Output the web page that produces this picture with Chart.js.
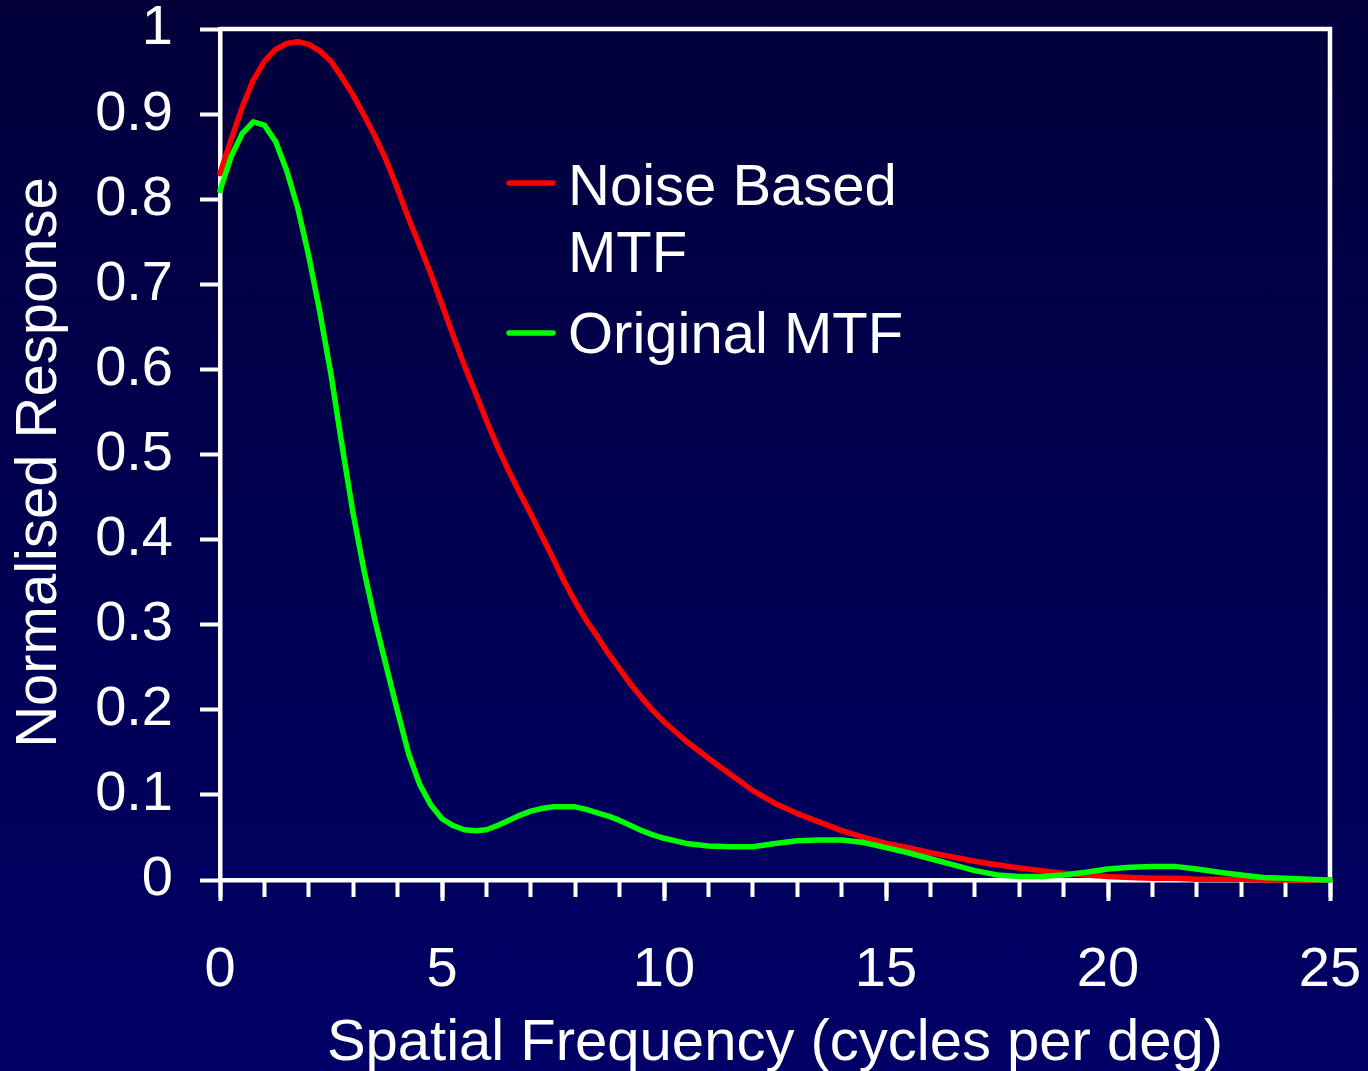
<!DOCTYPE html>
<html>
<head>
<meta charset="utf-8">
<title>MTF</title>
<script src="https://cdn.jsdelivr.net/npm/chart.js@4.4.1/dist/chart.umd.min.js"></script>
<style>
  html, body { margin: 0; padding: 0; }
  body {
    width: 1368px;
    height: 1071px;
    overflow: hidden;
    background: linear-gradient(to bottom, #03003a 0%, #00004f 45%, #000066 100%);
  }
  canvas { display: block; }
</style>
</head>
<body>
<canvas id="mtfChart" width="1368" height="1071"></canvas>
<script>
// spatial frequency (cycles per deg)
const freq = [
  0, 0.25, 0.5, 0.75, 1, 1.25, 1.5, 1.75, 2, 2.25, 2.5, 2.75, 3, 3.25, 3.5, 3.75,
  4, 4.25, 4.5, 4.75, 5, 5.25, 5.5, 5.75, 6, 6.25, 6.5, 6.75, 7, 7.25, 7.5, 7.75,
  8, 8.25, 8.5, 8.75, 9, 9.25, 9.5, 9.75, 10,
  10.5, 11, 11.5, 12, 12.5, 13, 13.5, 14, 14.5, 15, 15.5, 16, 16.5, 17, 17.5,
  18, 18.5, 19, 19.5, 20, 20.5, 21, 21.5, 22, 22.5, 23, 23.5, 24, 24.5, 25
];

const noiseMtf = [
  0.83, 0.87, 0.908, 0.94, 0.962, 0.976, 0.983, 0.985, 0.982, 0.974, 0.962, 0.943, 0.922, 0.898, 0.873, 0.845,
  0.812, 0.777, 0.745, 0.712, 0.676, 0.64, 0.605, 0.573, 0.54, 0.509, 0.481, 0.455, 0.43, 0.404, 0.378, 0.351,
  0.327, 0.305, 0.286, 0.266, 0.248, 0.23, 0.214, 0.199, 0.186,
  0.163, 0.143, 0.124, 0.105, 0.09, 0.078, 0.068, 0.058, 0.05, 0.043, 0.038, 0.032, 0.027, 0.022, 0.018,
  0.014, 0.011, 0.008, 0.006, 0.004, 0.003, 0.002, 0.002, 0.001, 0.001, 0.001, 0, 0, 0, 0
];

const originalMtf = [
  0.81, 0.85, 0.877, 0.891, 0.887, 0.868, 0.834, 0.79, 0.733, 0.667, 0.594, 0.51, 0.43, 0.362, 0.303, 0.25,
  0.198, 0.148, 0.112, 0.088, 0.072, 0.064, 0.059, 0.058, 0.059, 0.064, 0.07, 0.076, 0.081, 0.084, 0.086, 0.086,
  0.086, 0.083, 0.079, 0.075, 0.07, 0.064, 0.058, 0.053, 0.049,
  0.043, 0.04, 0.039, 0.039, 0.043, 0.046, 0.047, 0.047, 0.044, 0.038, 0.032, 0.025, 0.018, 0.011, 0.006,
  0.004, 0.004, 0.006, 0.009, 0.013, 0.015, 0.016, 0.016, 0.013, 0.009, 0.006, 0.003, 0.002, 0.001, 0
];

const xTickLabels = ['0', '5', '10', '15', '20', '25'];
const yTickLabels = ['0', '0.1', '0.2', '0.3', '0.4', '0.5', '0.6', '0.7', '0.8', '0.9', '1'];
const legendLines = [['Noise Based', 'MTF'], ['Original MTF']];

const FONT = '"Liberation Sans", Arial, sans-serif';

function toPoints(ys) {
  return freq.map((f, i) => ({ x: f, y: ys[i] }));
}

// box round the plot (top and right sides)
const plotFrame = {
  id: 'plotFrame',
  beforeDatasetsDraw(chart) {
    const { ctx, chartArea: a } = chart;
    ctx.save();
    ctx.strokeStyle = '#ffffff';
    ctx.lineWidth = 4.5;
    ctx.lineJoin = 'miter';
    ctx.beginPath();
    ctx.moveTo(a.left, a.top);
    ctx.lineTo(a.right, a.top);
    ctx.lineTo(a.right, a.bottom);
    ctx.stroke();
    ctx.restore();
  }
};

// legend sits inside the plot, labels wrap on two lines
const insideLegend = {
  id: 'insideLegend',
  afterDraw(chart) {
    const ctx = chart.ctx;
    const rows = [
      { lineY: 183, textY: [205, 272] },
      { lineY: 333, textY: [353] }
    ];
    ctx.save();
    ctx.font = '58px ' + FONT;
    ctx.fillStyle = '#ffffff';
    ctx.textBaseline = 'alphabetic';
    ctx.textAlign = 'left';
    chart.data.datasets.forEach((ds, i) => {
      const r = rows[i];
      ctx.strokeStyle = ds.borderColor;
      ctx.lineWidth = 5.5;
      ctx.lineCap = 'round';
      ctx.beginPath();
      ctx.moveTo(509, r.lineY);
      ctx.lineTo(553, r.lineY);
      ctx.stroke();
      legendLines[i].forEach((t, j) => ctx.fillText(t, 568, r.textY[j]));
    });
    ctx.restore();
  }
};

const ctx = document.getElementById('mtfChart').getContext('2d');
const mtfChart = new Chart(ctx, {
  type: 'line',
  data: {
    datasets: [{
      label: 'Noise Based MTF',
      data: toPoints(noiseMtf),
      borderColor: '#ff0000',
      borderWidth: 5.5,
      pointRadius: 0,
      tension: 0,
      borderCapStyle: 'round',
      borderJoinStyle: 'round',
      clip: false,
      order: 1
    }, {
      label: 'Original MTF',
      data: toPoints(originalMtf),
      borderColor: '#00ff00',
      borderWidth: 5.5,
      pointRadius: 0,
      tension: 0,
      borderCapStyle: 'round',
      borderJoinStyle: 'round',
      clip: false,
      order: 0
    }]
  },
  options: {
    responsive: false,
    animation: false,
    events: [],
    layout: { padding: { left: 0, top: 29, right: 38, bottom: 0 } },
    plugins: {
      legend: { display: false },
      tooltip: { enabled: false }
    },
    scales: {
      xMinor: {
        type: 'linear',
        position: 'bottom',
        weight: -1,
        min: 0,
        max: 25,
        ticks: { stepSize: 1, display: false, autoSkip: false },
        grid: { drawOnChartArea: false, color: '#ffffff', tickLength: 17, tickWidth: 4 },
        border: { display: false },
        afterFit(axis) {
          axis.height = 0;
          axis.paddingLeft = 0;
          axis.paddingRight = 0;
        }
      },
      x: {
        type: 'linear',
        position: 'bottom',
        weight: 1,
        min: 0,
        max: 25,
        ticks: {
          stepSize: 5,
          autoSkip: false,
          maxRotation: 0,
          color: '#ffffff',
          padding: 36,
          font: { family: FONT, size: 56 },
          callback: (v) => xTickLabels[Math.round(v / 5)]
        },
        grid: { drawOnChartArea: false, color: '#ffffff', tickLength: 21, tickWidth: 4 },
        border: { color: '#ffffff', width: 4.5 },
        title: {
          display: true,
          text: 'Spatial Frequency (cycles per deg)',
          color: '#ffffff',
          font: { family: FONT, size: 58 },
          padding: { top: 0, bottom: -8 }
        },
        afterFit(axis) {
          axis.height = 191;
          axis.paddingLeft = 0;
          axis.paddingRight = 0;
        }
      },
      y: {
        type: 'linear',
        min: 0,
        max: 1,
        ticks: {
          stepSize: 0.1,
          color: '#ffffff',
          padding: 27,
          font: { family: FONT, size: 56 },
          callback: (v) => yTickLabels[Math.round(v * 10)]
        },
        grid: { drawOnChartArea: false, color: '#ffffff', tickLength: 20, tickWidth: 4 },
        border: { color: '#ffffff', width: 4.5 },
        title: {
          display: true,
          // trailing no-break space nudges the rotated title down to where it sits in the original
          text: 'Normalised Response\u00a0',
          color: '#ffffff',
          font: { family: FONT, size: 58 },
          padding: { top: 5, bottom: 0 }
        },
        afterFit(axis) {
          axis.width = 220;
          axis.paddingTop = 0;
          axis.paddingBottom = 0;
        }
      }
    }
  },
  plugins: [plotFrame, insideLegend]
});
</script>
</body>
</html>
